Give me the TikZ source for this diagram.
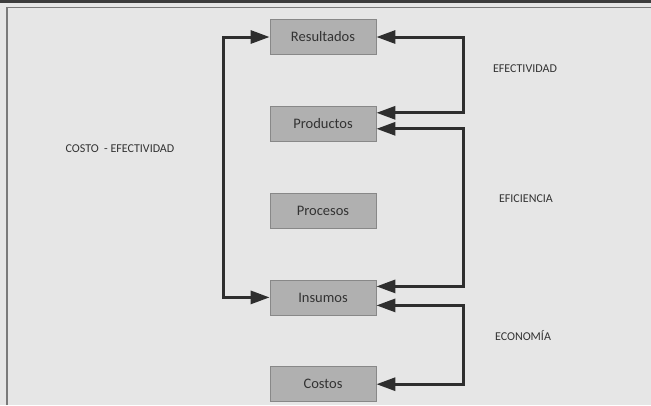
\documentclass[tikz,border=0pt]{standalone}
\usepackage{xcolor}
\usepackage{fontspec}
\setmainfont{Carlito}
\usepackage{tikz}
\usetikzlibrary{arrows.meta, positioning}

\definecolor{paper}{HTML}{E6E6E6}
\definecolor{band}{HTML}{3C3C3C}
\definecolor{framegray}{HTML}{7A7A7A}
\definecolor{boxfill}{HTML}{B0B0B0}
\definecolor{boxline}{HTML}{888888}
\definecolor{wire}{HTML}{2E2E2E}
\definecolor{ink}{HTML}{333333}

\begin{document}
\begin{tikzpicture}[
    x=1pt, y=1pt,
    node distance=51pt,
    box/.style={draw=boxline, fill=boxfill, line width=0.8pt, minimum width=106pt, minimum height=35pt, text=ink, font=\fontsize{14.5}{16}\selectfont},
    tag/.style={text=ink, font=\fontsize{12}{14}\selectfont},
    link/.style={arrows={Triangle[length=19pt,width=13pt]-Triangle[length=19pt,width=13pt]}, line width=3pt, draw=wire}
]

% page and frame
\fill[paper] (0,0) rectangle (651,-405);
\useasboundingbox (0,0) rectangle (651,-405);
\fill[band] (0,0) rectangle (651,-3);
\draw[framegray, line width=1.2pt] (7,-405) -- (7,-7.5) -- (651,-7.5);

% Nodes (chain)
\node[box] (resultados) at (323,-37) {Resultados};
\node[box] (productos) [below=of resultados] {Productos};
\node[box] (procesos) [below=of productos] {Procesos};
\node[box] (insumos) [below=of procesos] {Insumos};
\node[box] (costos) [below=of insumos] {Costos};

% Labels
\node[tag] (costoefect) at (120,-149) {COSTO\ \ - EFECTIVIDAD};
\node[tag] (efectividad) at (525,-69) {EFECTIVIDAD};
\node[tag] (eficiencia) at (526,-199) {EFICIENCIA};
\node[tag] (economia) at (523,-336) {ECONOMÍA};

% Left loop
\draw[link] (insumos.west) -- ++(-46,0) |- (resultados.west);

% Right loops
\draw[link] (resultados.east) -- ++(87,0) |- ([yshift=11pt]productos.east);
\draw[link] ([yshift=-5pt]productos.east) -- ++(87,0) |- ([yshift=11pt]insumos.east);
\draw[link] ([yshift=-8pt]insumos.east) -- ++(87,0) |- (costos.east);

\end{tikzpicture}
\end{document}
